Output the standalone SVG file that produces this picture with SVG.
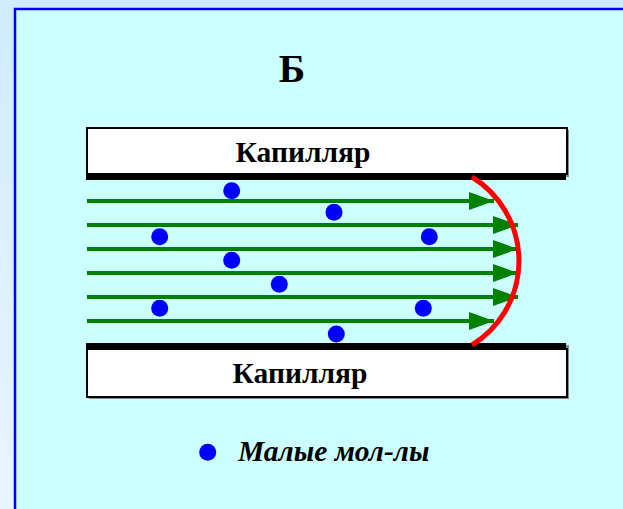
<svg xmlns="http://www.w3.org/2000/svg" width="623" height="509" viewBox="0 0 623 509">
<defs>
<linearGradient id="bg" x1="0" y1="0" x2="0" y2="1">
<stop offset="0" stop-color="#d0ebff"/>
<stop offset="1" stop-color="#e8f5ff"/>
</linearGradient>
<marker id="ah" markerWidth="25" markerHeight="18" refX="25" refY="9" orient="auto" markerUnits="userSpaceOnUse">
<path d="M0,0 L25,9 L0,18 Z" fill="#008000"/>
</marker>
<style>
.cap{fill:#ffffff;stroke:#000;stroke-width:2}
.shadow{fill:#888}
.band{fill:#000}
.flow{stroke:#008000;stroke-width:4;fill:none;marker-end:url(#ah)}
.mol{fill:#0000ff}
.lbl{font-family:"Liberation Serif","Times New Roman",serif;font-weight:bold;fill:#000}
</style>
</defs>
<rect x="0" y="0" width="623" height="509" fill="url(#bg)"/>
<rect x="15" y="9" width="620" height="510" fill="#ccffff" stroke="#0000ff" stroke-width="2.5"/>
<text class="lbl" x="292" y="82" font-size="40" text-anchor="middle">Б</text>
<g id="capillary-top">
<rect class="shadow" x="89" y="130" width="480" height="47"/>
<rect class="cap" x="87" y="128" width="480" height="46"/>
<rect class="band" x="86" y="173" width="480" height="7"/>
<text class="lbl" x="303" y="162" font-size="29.5" text-anchor="middle">Капилляр</text>
</g>
<g id="capillary-bottom">
<rect class="shadow" x="89" y="345" width="480" height="54"/>
<rect class="cap" x="87" y="349" width="480" height="48"/>
<rect class="band" x="86" y="343" width="480" height="7"/>
<text class="lbl" x="300" y="383" font-size="29.5" text-anchor="middle">Капилляр</text>
</g>
<g id="connectors">
<line class="flow" x1="87" y1="201" x2="494" y2="201"/>
<line class="flow" x1="87" y1="225" x2="518" y2="225"/>
<line class="flow" x1="87" y1="249" x2="518" y2="249"/>
<line class="flow" x1="87" y1="273" x2="518" y2="273"/>
<line class="flow" x1="87" y1="297" x2="518" y2="297"/>
<line class="flow" x1="87" y1="321" x2="494" y2="321"/>
</g>
<g id="front">
<path d="M472,177 A98.6,98.6 0 0 1 472,345" fill="none" stroke="#ff0000" stroke-width="5"/>
</g>
<g id="molecules">
<circle class="mol" cx="231.7" cy="190.7" r="8.5"/>
<circle class="mol" cx="334" cy="212.3" r="8.5"/>
<circle class="mol" cx="159.7" cy="236.7" r="8.5"/>
<circle class="mol" cx="429.3" cy="236.7" r="8.5"/>
<circle class="mol" cx="231.7" cy="260.3" r="8.5"/>
<circle class="mol" cx="279.3" cy="284.3" r="8.5"/>
<circle class="mol" cx="159.7" cy="308.3" r="8.5"/>
<circle class="mol" cx="423.3" cy="308.3" r="8.5"/>
<circle class="mol" cx="336.3" cy="334" r="8.5"/>
</g>
<g id="legend">
<circle class="mol" cx="207.7" cy="452.3" r="8.5"/>
<text class="lbl" x="238" y="461" font-size="29.5" font-style="italic">Малые мол-лы</text>
</g>
</svg>
